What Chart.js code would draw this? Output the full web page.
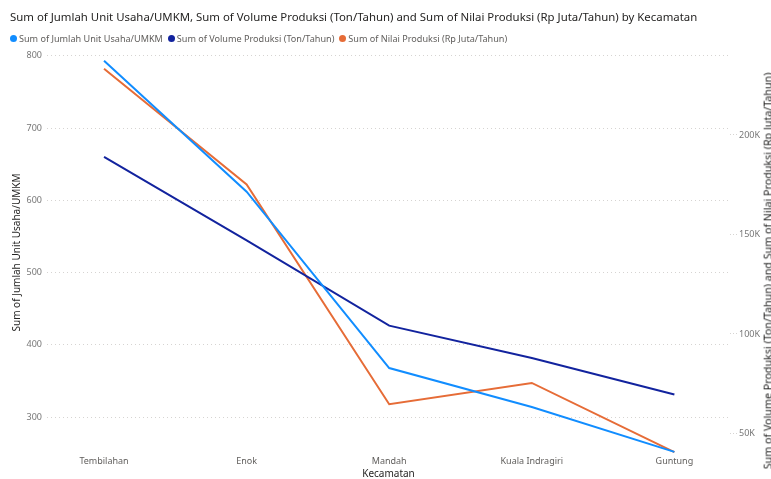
<!DOCTYPE html>
<html>
<head>
<meta charset="utf-8">
<script src="https://cdn.jsdelivr.net/npm/chart.js@4.4.1/dist/chart.umd.min.js"></script>
<style>
  html, body { margin: 0; padding: 0; background: #ffffff; }
  #wrap { position: relative; width: 771px; height: 479px; overflow: hidden; }
  #title { position: absolute; left: 10px; top: 9px; font-family: "Noto Sans", sans-serif; font-size: 11.4px; color: #252423; white-space: nowrap; }
  #legend { position: absolute; left: 10px; top: 32px; font-family: "Noto Sans", sans-serif; font-size: 9.1px; color: #605E5C; white-space: nowrap; display: flex; align-items: center; }
  #rtitle { position: absolute; left: 768px; top: 271px; transform: translate(-50%, -50%) rotate(-90deg); font-family: "Noto Sans", sans-serif; font-size: 10.7px; color: #252423; white-space: nowrap; line-height: 1; }
  .item { display: flex; align-items: center; margin-right: 5px; }
  .dot { width: 7px; height: 7px; border-radius: 50%; margin-right: 2px; }
  canvas { position: absolute; left: 0; top: 0; }
</style>
</head>
<body>
<div id="wrap">
  <canvas id="c" width="771" height="479"></canvas>
  <div id="title"></div>
  <div id="legend"></div>
  <div id="rtitle"></div>
</div>
<script>
const chartTitle = "Sum of Jumlah Unit Usaha/UMKM, Sum of Volume Produksi (Ton/Tahun) and Sum of Nilai Produksi (Rp Juta/Tahun) by Kecamatan";
const categories = ["Tembilahan", "Enok", "Mandah", "Kuala Indragiri", "Guntung"];
const seriesNames = ["Sum of Jumlah Unit Usaha/UMKM", "Sum of Volume Produksi (Ton/Tahun)", "Sum of Nilai Produksi (Rp Juta/Tahun)"];
const jumlahUnit = [793, 612, 368, 314, 252];
const volumeProduksi = [189000, 147000, 104200, 87900, 69600];
const nilaiProduksi = [233300, 175100, 64700, 75400, 40600];
const leftTicks = [300, 400, 500, 600, 700, 800];
const rightTicks = [50000, 100000, 150000, 200000];
const xTitle = "Kecamatan";
const leftTitle = "Sum of Jumlah Unit Usaha/UMKM";
const rightTitle = "Sum of Volume Produksi (Ton/Tahun) and Sum of Nilai Produksi (Rp Juta/Tahun)";
const colors = ["#118DFF", "#12239E", "#E66C37"];

document.getElementById('title').textContent = chartTitle;
document.getElementById('rtitle').textContent = rightTitle;
const lg = document.getElementById('legend');
seriesNames.forEach((n, i) => {
  const it = document.createElement('span'); it.className = 'item';
  const d = document.createElement('span'); d.className = 'dot'; d.style.background = colors[i];
  const t = document.createElement('span'); t.textContent = n;
  it.appendChild(d); it.appendChild(t); lg.appendChild(it);
});

const toPts = arr => arr.map((v, i) => ({ x: i, y: v }));
const font = "'Noto Sans', sans-serif";
const gridColor = '#D6D4D2';

new Chart(document.getElementById('c'), {
  type: 'line',
  data: {
    datasets: [
      { label: seriesNames[0], data: toPts(jumlahUnit), borderColor: colors[0], backgroundColor: colors[0], yAxisID: 'y' },
      { label: seriesNames[1], data: toPts(volumeProduksi), borderColor: colors[1], backgroundColor: colors[1], yAxisID: 'y2' },
      { label: seriesNames[2], data: toPts(nilaiProduksi), borderColor: colors[2], backgroundColor: colors[2], yAxisID: 'y2' }
    ]
  },
  options: {
    responsive: false,
    animation: false,
    devicePixelRatio: 1,
    layout: { padding: { top: 50, left: 0, right: 0, bottom: 0 } },
    elements: { line: { borderWidth: 2, tension: 0 }, point: { radius: 0 } },
    plugins: { legend: { display: false }, title: { display: false }, tooltip: { enabled: false } },
    scales: {
      x: {
        type: 'linear', min: -0.4, max: 4.39,
        afterBuildTicks: s => { s.ticks = categories.map((c, i) => ({ value: i })); },
        afterFit: s => { s.height = 24; },
        ticks: { callback: v => categories[v], font: { family: font, size: 9 }, color: '#605E5C', padding: 1, maxRotation: 0, autoSkip: false },
        grid: { display: false, drawTicks: false },
        border: { display: false },
        title: { display: true, text: xTitle, font: { family: font, size: 10 }, color: '#252423', padding: { top: 0, bottom: -1 } }
      },
      y: {
        position: 'left', min: 247.7, max: 808,
        afterBuildTicks: s => { s.ticks = leftTicks.map(v => ({ value: v })); },
        afterFit: s => { s.width = 47; },
        ticks: { font: { family: font, size: 9 }, color: '#777777', padding: 5 },
        grid: { color: gridColor, borderDash: [1, 3], drawTicks: false },
        border: { display: false, dash: [1, 3] },
        title: { display: true, text: leftTitle, font: { family: font, size: 10 }, color: '#252423', padding: { top: 11, bottom: 0 } }
      },
      y2: {
        position: 'right', min: 39200, max: 242700,
        afterBuildTicks: s => { s.ticks = rightTicks.map(v => ({ value: v })); },
        afterFit: s => { s.width = 41; },
        ticks: { callback: v => (v / 1000) + 'K', font: { family: font, size: 9 }, color: '#777777', padding: 2 },
        grid: { drawOnChartArea: false, color: gridColor, tickLength: 7, tickBorderDash: [1, 2], tickColor: gridColor },
        border: { display: false },
        title: { display: false }
      }
    }
  }
});
</script>
</body>
</html>
